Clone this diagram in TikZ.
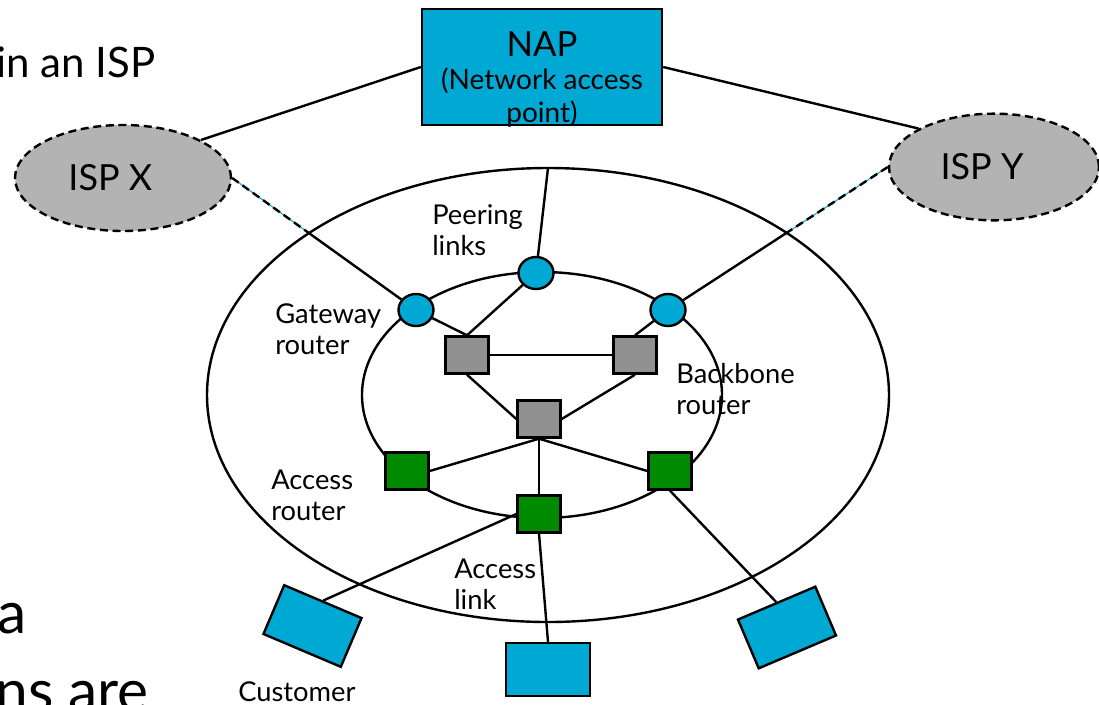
\documentclass[tikz,border=0pt]{standalone}
\usepackage{fontspec}
\setmainfont{Lato}
\usetikzlibrary{shapes.geometric,intersections}

\definecolor{napblue}{RGB}{0,169,212}
\definecolor{ispgray}{RGB}{179,179,179}
\definecolor{bbgray}{RGB}{145,145,145}
\definecolor{accgreen}{RGB}{0,138,0}

\tikzset{
  link/.style={line width=1.8pt},
  ring/.style={line width=1.8pt},
  dashlink/.style={line width=1.8pt, dash pattern=on 6pt off 3.5pt},
  undertone/.style={napblue, line width=0.8pt},
  ispcloud/.style={ellipse, draw, fill=ispgray, line width=1.8pt,
    dash pattern=on 6pt off 3.5pt, inner sep=0pt,
    font=\fontsize{27}{27}\selectfont},
  napbox/.style={rectangle, draw, fill=napblue, line width=1.8pt,
    minimum width=180pt, minimum height=87pt, inner sep=0pt},
  gwrouter/.style={ellipse, draw, fill=napblue, line width=1.8pt,
    minimum width=26.25pt, minimum height=24pt, inner sep=0pt},
  bbrouter/.style={rectangle, draw, fill=bbgray, line width=1.8pt,
    minimum width=32.25pt, minimum height=27.75pt, inner sep=0pt},
  accrouter/.style={rectangle, draw, fill=accgreen, line width=1.8pt,
    minimum width=32.25pt, minimum height=27.75pt, inner sep=0pt},
  custbox/.style={rectangle, draw, fill=napblue, line width=1.8pt,
    minimum width=63pt, minimum height=39.75pt, inner sep=0pt},
  % two-line labels are placed by the baseline of their last line
  lbl/.style={font=\fontsize{20.5}{23.25}\selectfont, align=left,
    anchor=base west, inner sep=0pt},
  slidetext/.style={inner sep=0pt},
}

\begin{document}
\begin{tikzpicture}[x=0.75pt, y=-0.75pt]
  \useasboundingbox (0,0) rectangle (1099,704);
  \clip (0,0) rectangle (1099,704);

  % leftover lines of the slide text
  \node[slidetext, anchor=base east, font=\fontsize{31.5}{31.5}\selectfont] (sl1) at (156,77) {in an ISP};
  \node[slidetext, anchor=base west, font=\fontsize{44}{44}\selectfont] (sl2) at (-3,633) {a};
  \node[slidetext, anchor=base west, font=\fontsize{44}{44}\selectfont] (sl3) at (-5,711) {ns are};

  % ISP boundary and backbone ring
  \draw[ring, name path=outer] (548,395) ellipse [x radius=255.75pt, y radius=170.25pt];
  \draw[ring] (542,395) ellipse [x radius=135pt, y radius=92.25pt];

  % NAP and neighbouring ISPs
  \node[napbox] (nap) at (542,67) {};
  \node[anchor=base, inner sep=0pt, align=center,
        font=\fontsize{21}{24.75}\selectfont] (naptext) at (542,122)
        {{\fontsize{26}{26}\selectfont NAP}\\(Network access\\point)};
  \node[ispcloud, minimum width=162pt, minimum height=79.5pt] (ispx) at (123,178) {ISP X\hspace*{19pt}};
  \node[ispcloud, minimum width=157.5pt, minimum height=80pt] (ispy) at (994,167) {ISP Y\hspace*{18pt}};

  % routers
  \node[gwrouter] (gwL) at (416,310) {};
  \node[gwrouter] (peer) at (536,273) {};
  \node[gwrouter] (gwR) at (668,310) {};
  \node[bbrouter] (bbL) at (467,355) {};
  \node[bbrouter] (bbR) at (635,355) {};
  \node[bbrouter] (bbC) at (539,419) {};
  \node[accrouter] (arL) at (407,471) {};
  \node[accrouter] (arR) at (670,471) {};
  \node[accrouter] (arB) at (539,514) {};

  % customers
  \node[custbox, rotate=-23] (cuL) at (312.5,626) {};
  \node[custbox] (cuM) at (548,669.5) {};
  \node[custbox, rotate=23] (cuR) at (787,627.5) {};

  % links to the NAP
  \draw[link] (nap.west) -- (ispx.26);
  \draw[link] (nap.east) -- (ispy.153);
  \coordinate (napdrop) at (548,168);
  \draw[link] (peer) -- (napdrop);

  % peering links: dashed outside the ISP, solid inside
  \path[name path=xline] (ispx.east) -- (gwL.center);
  \path[name path=yline] (ispy.west) -- (gwR.center);
  \path[name intersections={of=outer and xline, by=xcross}];
  \path[name intersections={of=outer and yline, by=ycross}];
  \draw[undertone] (ispx.east) -- (xcross);
  \draw[dashlink] (ispx.east) -- (xcross);
  \draw[link] (xcross) -- (gwL);
  \draw[undertone] (ispy.west) -- (ycross);
  \draw[dashlink] (ispy.west) -- (ycross);
  \draw[link] (ycross) -- (gwR);

  % backbone
  \draw[link] (gwL) -- (bbL.north);
  \draw[link] (peer) -- (bbL.north);
  \draw[link] (gwR) -- (bbR.north);
  \draw[link] (bbL) -- (bbR);
  \draw[link] (bbL.south) -- (bbC.west);
  \draw[link] (bbR.south) -- (bbC.east);
  \draw[link] (bbC.south) -- (arL.east);
  \draw[link] (bbC.south) -- (arR.west);
  \draw[link] (bbC) -- (arB);

  % access links
  \draw[link] (arB.west) -- (cuL.north);
  \draw[link] (arB.south) -- (cuM.north);
  \draw[link] (arR.south) -- (cuR.north);

  % labels
  \node[lbl] (lpeer) at (432,255) {Peering\\links};
  \node[lbl] (lgw) at (275,354) {Gateway\\router};
  \node[lbl] (lbb) at (676,414) {Backbone\\router};
  \node[lbl] (lar) at (271,520) {Access\\router};
  \node[lbl] (lal) at (454,609) {Access\\link};
  \node[lbl] (lcu) at (238,701) {Customer};
\end{tikzpicture}
\end{document}
